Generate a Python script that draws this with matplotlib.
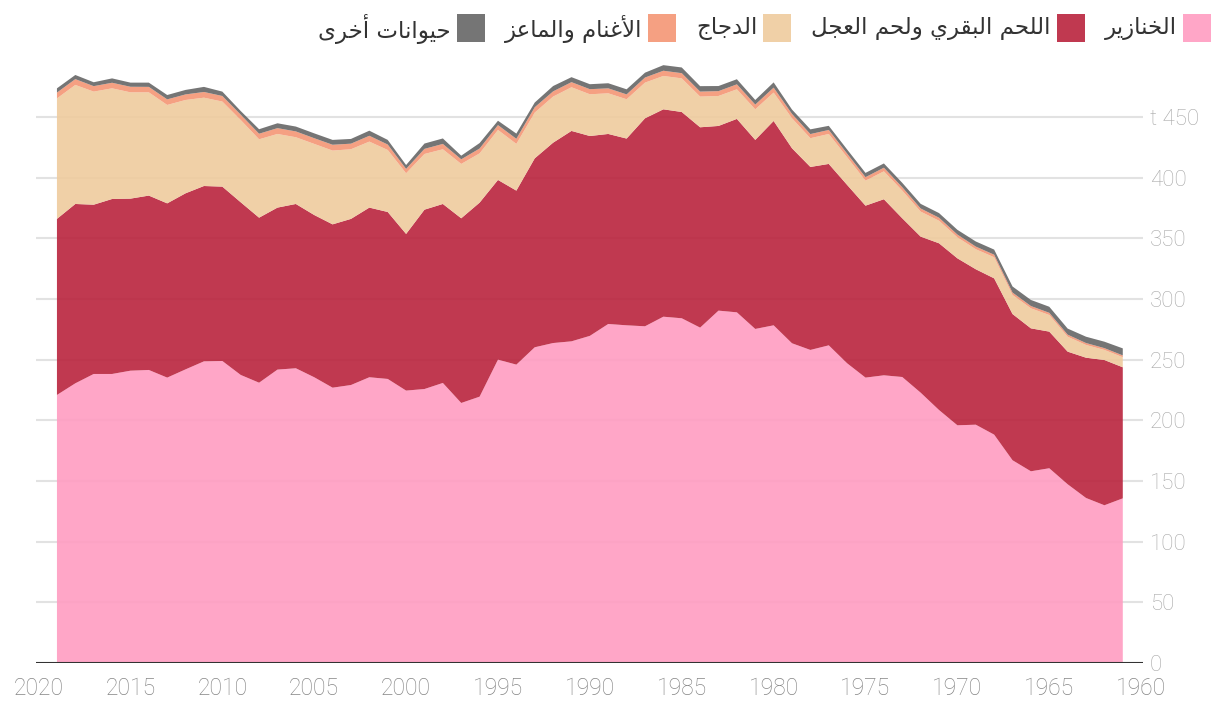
import matplotlib
matplotlib.use('Agg')
import matplotlib.pyplot as plt
from matplotlib.patches import Rectangle

# years run from 2019 back to 1961, the x axis is reversed
years = list(range(2019, 1960, -1))

pigs = [220.9, 230.5, 238.2, 238.2, 240.9, 241.5, 235.2, 242.0, 248.6, 248.9,
	237.4, 231.0, 241.8, 242.9, 235.5, 226.9, 229.1, 235.5, 234.1, 224.5,
	225.8, 230.8, 214.3, 219.5, 250.0, 245.9, 260.2, 263.7, 265.1, 269.6,
	279.4, 278.3, 277.5, 285.4, 284.1, 276.4, 290.4, 289.0, 275.3, 278.3,
	263.5, 258.0, 261.8, 247.0, 235.2, 237.1, 235.7, 222.8, 208.5, 195.9,
	196.4, 188.2, 167.1, 158.0, 160.5, 147.3, 136.0, 130.0, 135.7]

beef = [145.1, 147.8, 139.5, 144.2, 141.8, 143.7, 143.6, 145.1, 144.5, 143.7,
	142.3, 136.0, 133.5, 135.4, 133.7, 134.6, 136.9, 139.8, 137.6, 129.1,
	147.8, 147.5, 152.2, 159.9, 148.1, 143.4, 155.7, 165.1, 173.4, 164.7,
	156.6, 153.9, 171.4, 170.9, 170.0, 165.1, 152.2, 159.4, 155.8, 168.4,
	160.7, 150.8, 149.5, 147.0, 141.7, 145.1, 130.8, 128.6, 137.4, 137.6,
	128.1, 128.8, 120.5, 117.8, 112.6, 109.3, 115.6, 119.7, 108.0]

chicken = [99.3, 98.1, 93.2, 91.2, 87.6, 85.1, 81.1, 76.9, 72.8, 70.1,
	67.8, 64.6, 60.7, 55.0, 58.6, 60.8, 57.4, 54.4, 51.1, 50.0,
	45.9, 45.1, 44.8, 40.6, 41.2, 38.5, 37.7, 38.0, 36.0, 34.4,
	33.5, 32.4, 29.4, 27.5, 27.7, 25.3, 24.7, 24.4, 25.2, 23.4,
	24.7, 23.7, 24.7, 22.8, 20.6, 23.0, 22.8, 20.6, 18.6, 17.3,
	16.5, 17.4, 15.7, 16.5, 13.7, 12.3, 10.5, 8.3, 8.3]

sheep = [4.8, 4.8, 4.5, 4.6, 4.6, 4.5, 4.6, 4.6, 4.7, 4.6,
	4.4, 4.6, 4.8, 4.8, 4.7, 4.8, 4.6, 4.8, 4.5, 3.6,
	4.2, 4.4, 3.8, 4.0, 4.0, 4.2, 4.4, 4.3, 4.2, 4.2,
	4.1, 4.0, 4.2, 4.3, 4.3, 4.1, 4.0, 4.1, 3.9, 4.1,
	3.6, 3.4, 3.3, 3.0, 2.9, 3.0, 2.8, 2.6, 2.5, 2.3,
	2.2, 2.1, 2.0, 1.9, 1.8, 1.7, 1.6, 1.5, 1.5]

other = [3.5, 3.4, 3.2, 3.6, 3.4, 3.5, 3.6, 3.7, 4.2, 3.6,
	3.0, 3.7, 4.0, 4.0, 4.0, 4.0, 3.9, 4.2, 3.8, 3.2,
	4.4, 4.5, 3.0, 4.5, 3.6, 4.3, 3.9, 4.4, 4.1, 4.1,
	4.2, 4.2, 4.0, 4.6, 4.7, 4.5, 4.2, 4.2, 3.8, 4.3,
	3.6, 3.9, 3.4, 3.4, 3.5, 3.5, 3.6, 3.8, 3.8, 3.9,
	4.2, 4.2, 5.0, 5.0, 5.0, 5.0, 5.2, 5.3, 5.8]

labels = ['الخنازير', 'اللحم البقري ولحم العجل', 'الدجاج', 'الأغنام والماعز', 'حيوانات أخرى']
colors = ['#ff9cc1', '#b9233d', '#efcb9e', '#f49674', '#666666']
x_ticks = list(range(2020, 1959, -5))
y_ticks = list(range(0, 451, 50))
y_labels = [str(v) for v in y_ticks[:-1]] + ['t 450']

# matplotlib has no arabic shaping, so pick the presentation forms by hand
FORMS = {
	'ا': ('\ufe8d', '\ufe8e', None, None),
	'أ': ('\ufe83', '\ufe84', None, None),
	'ب': ('\ufe8f', '\ufe90', '\ufe91', '\ufe92'),
	'ت': ('\ufe95', '\ufe96', '\ufe97', '\ufe98'),
	'ج': ('\ufe9d', '\ufe9e', '\ufe9f', '\ufea0'),
	'ح': ('\ufea1', '\ufea2', '\ufea3', '\ufea4'),
	'خ': ('\ufea5', '\ufea6', '\ufea7', '\ufea8'),
	'د': ('\ufea9', '\ufeaa', None, None),
	'ر': ('\ufead', '\ufeae', None, None),
	'ز': ('\ufeaf', '\ufeb0', None, None),
	'ع': ('\ufec9', '\ufeca', '\ufecb', '\ufecc'),
	'غ': ('\ufecd', '\ufece', '\ufecf', '\ufed0'),
	'ق': ('\ufed5', '\ufed6', '\ufed7', '\ufed8'),
	'ل': ('\ufedd', '\ufede', '\ufedf', '\ufee0'),
	'م': ('\ufee1', '\ufee2', '\ufee3', '\ufee4'),
	'ن': ('\ufee5', '\ufee6', '\ufee7', '\ufee8'),
	'و': ('\ufeed', '\ufeee', None, None),
	'ى': ('\ufeef', '\ufef0', None, None),
	'ي': ('\ufef1', '\ufef2', '\ufef3', '\ufef4'),
	'لا': ('\ufefb', '\ufefc', None, None),
	'لأ': ('\ufef7', '\ufef8', None, None),
}


def shape(text):
	seq = []
	i = 0
	while i < len(text):
		if text[i] == 'ل' and i + 1 < len(text) and text[i + 1] in 'اأ':
			seq.append(text[i:i + 2])
			i += 2
		else:
			seq.append(text[i])
			i += 1
	out = []
	for k, c in enumerate(seq):
		if c not in FORMS:
			out.append(c)
			continue
		prev = seq[k - 1] if k > 0 else None
		nxt = seq[k + 1] if k + 1 < len(seq) else None
		jp = prev in FORMS and FORMS[prev][2] is not None
		jn = nxt in FORMS and FORMS[c][2] is not None
		iso, fin, ini, med = FORMS[c]
		if jp and jn:
			out.append(med)
		elif jp:
			out.append(fin)
		elif jn:
			out.append(ini)
		else:
			out.append(iso)
	return ''.join(reversed(out))


W, H = 1220, 716
fig = plt.figure(figsize=(W / 100, H / 100), dpi=100)
ax = fig.add_axes([36 / W, 1 - 663 / H, (1143 - 36) / W, 606.7 / H])

for v in y_ticks[1:]:
	ax.axhline(v, color='#e2e2e2', lw=1.5, zorder=0)

ax.stackplot(years, pigs, beef, chicken, sheep, other, colors=colors, alpha=0.9, lw=0, zorder=2)
ax.axhline(0, color='#333333', lw=1.5, zorder=5)

ax.set_xlim(2020.14, 1959.9)
ax.set_ylim(0, 500)
for s in ax.spines.values():
	s.set_visible(False)

ax.set_xticks(x_ticks)
ax.set_xticklabels([str(y) for y in x_ticks], fontfamily='Roboto', fontweight='light')
ax.yaxis.tick_right()
ax.set_yticks(y_ticks)
ax.set_yticklabels(y_labels, fontfamily='Roboto', fontweight='light')
ax.tick_params(axis='x', length=0, pad=10, labelsize=16.5, labelcolor='#858585')
ax.tick_params(axis='y', length=0, pad=5, labelsize=16, labelcolor='#a8a8a8')

# legend at the top, right to left
r = fig.canvas.get_renderer()
x = 1211
for lab, col in zip(labels, colors):
	fig.patches.append(Rectangle(((x - 28) / W, 1 - 42 / H), 28 / W, 28 / H,
		transform=fig.transFigure, facecolor=col, edgecolor='none', alpha=0.9))
	t = fig.text((x - 34) / W, 1 - 29 / H, shape(lab), ha='right', va='center',
		fontsize=16.5, color='#333333', fontfamily='DejaVu Sans')
	w = t.get_window_extent(renderer=r).width
	x = x - 34 - w - 20

fig.savefig('out.png', dpi=100)
